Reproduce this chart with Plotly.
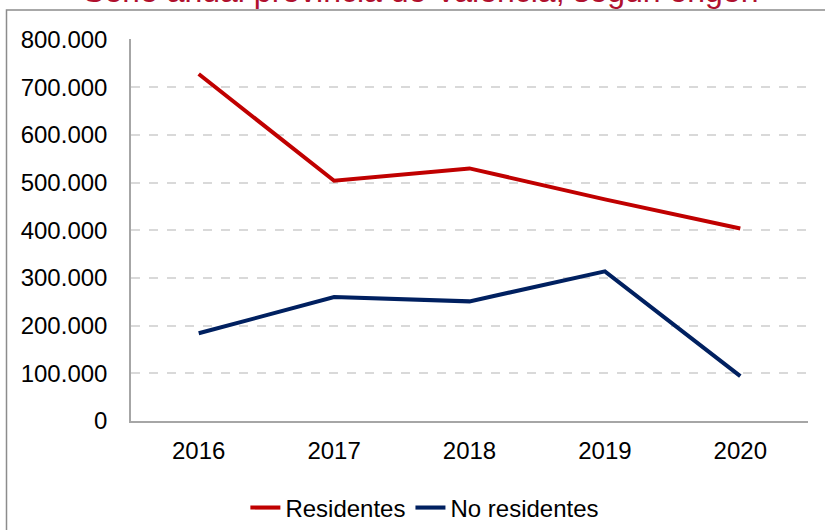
import plotly.graph_objects as go

years = ["2016", "2017", "2018", "2019", "2020"]
residentes = [728000, 504000, 530000, 465000, 404000]
no_residentes = [184000, 260000, 251000, 314000, 94000]

FONT = "Liberation Sans, Arial, sans-serif"
W, H = 825, 530

fig = go.Figure()
fig.add_trace(go.Scatter(x=years, y=residentes, name="Residentes", mode="lines",
                         line=dict(color="#C00000", width=4)))
fig.add_trace(go.Scatter(x=years, y=no_residentes, name="No residentes", mode="lines",
                         line=dict(color="#002060", width=4)))

# outer chart border (runs off the bottom/right of the frame like the source)
fig.add_shape(type="rect", xref="paper", yref="paper",
              x0=(6.5 - 131) / 677, x1=1.05, y0=-0.35, y1=(421 - 10) / 382,
              line=dict(color="#8c8c8c", width=1.5), fillcolor="rgba(0,0,0,0)",
              layer="below")

fig.update_layout(
    width=W, height=H,
    margin=dict(l=131, r=17, t=39, b=109),
    paper_bgcolor="white", plot_bgcolor="white",
    font=dict(family=FONT, size=24, color="black"),
    separators=",.",
    title=dict(text="Serie anual provincia de Valencia, según origen",
               font=dict(family=FONT, size=32, color="#B0102E"),
               x=0.51, xanchor="center", xref="container",
               y=(H - 2) / H, yanchor="bottom", yref="container"),
    xaxis=dict(showgrid=False, showline=True, linecolor="#a6a6a6", linewidth=2,
               ticks="", ticklabelstandoff=7, range=[-0.5, 4.5]),
    yaxis=dict(range=[0, 801500], dtick=100000, tickformat=",d",
               showgrid=True, gridcolor="#d9d9d9", griddash="dash", gridwidth=1.5,
               zeroline=False, showline=True, linecolor="#a6a6a6", linewidth=1.5,
               ticks="", ticklabelstandoff=17),
    legend=dict(orientation="h", xref="container", yref="container",
                x=0.515, xanchor="center", y=(H - 508) / H, yanchor="middle",
                font=dict(size=24), traceorder="normal"),
)

# page body margin off so the chart sits flush at the window corner
fig.write_html("out.html", config={"displayModeBar": False},
               post_script="document.body.style.margin='0';")
